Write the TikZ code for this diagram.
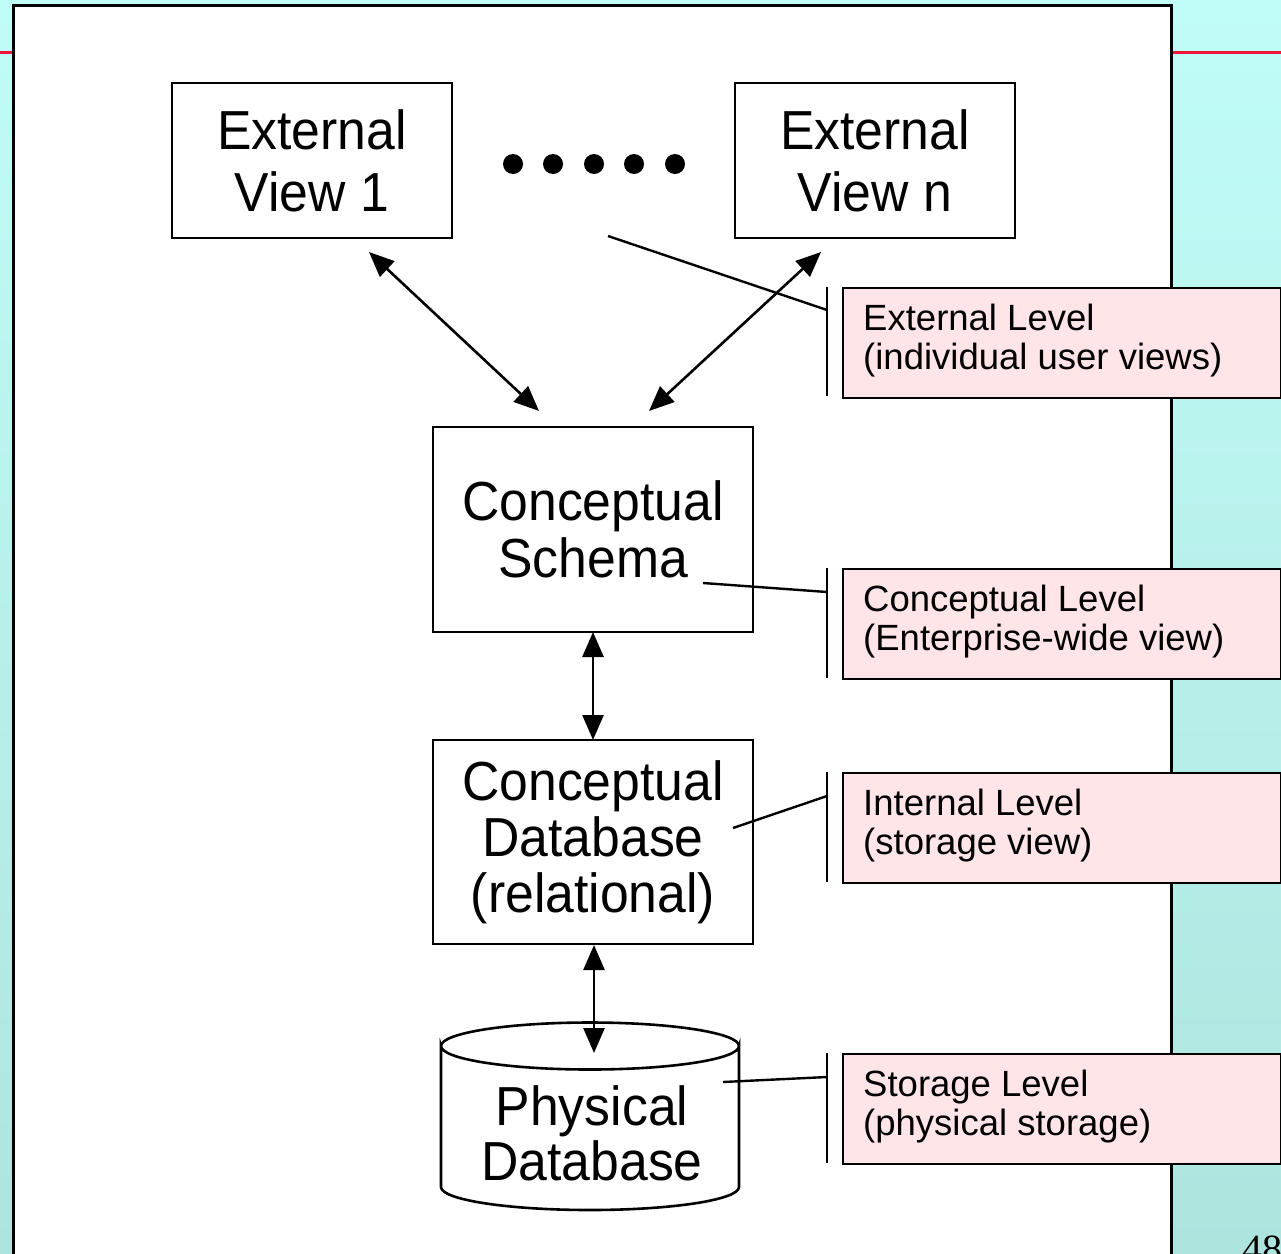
\documentclass[tikz,border=0pt]{standalone}
\usepackage{fontspec}
\setmainfont{Liberation Sans}
\newfontfamily\bigfont[FakeStretch=0.94]{Liberation Sans}
\newfontfamily\numfont{Liberation Serif}
\usetikzlibrary{arrows.meta}
\definecolor{bgtop}{RGB}{192,252,248}
\definecolor{bgbot}{RGB}{174,228,222}
\definecolor{pinkfill}{RGB}{255,228,232}
\definecolor{redline}{RGB}{240,20,60}
\tikzset{
  viewbox/.style={draw=black, line width=2.6pt, fill=white, inner sep=0pt,
    font=\bigfont\fontsize{55}{62}\selectfont, align=center},
  callout/.style={draw=black, line width=2.4pt, fill=pinkfill},
  callouttext/.style={anchor=west, align=left, inner sep=0pt,
    font=\fontsize{36.5}{39}\selectfont},
  bracket/.style={line width=2.4pt},
  leader/.style={line width=2.4pt},
  twoway/.style={line width=2.6pt, {Triangle[length=25pt,width=21pt]}-{Triangle[length=25pt,width=21pt]}},
  dot/.style={circle, fill=black, inner sep=0pt, minimum size=20pt},
}
\begin{document}
\begin{tikzpicture}[x=1pt,y=-1pt]
\useasboundingbox (0,0) rectangle (1281,1253);
% background
\shade[top color=bgtop, bottom color=bgbot] (0,0) rectangle (1281,1253);
\draw[redline, line width=3pt] (0,52) -- (1281,52);
\draw[line width=3pt, fill=white] (13,5) rectangle (1171,1270);
% external views
\node[viewbox, minimum width=280pt, minimum height=155pt] (ev1) at (312,160.5) {External\\View 1};
\node[viewbox, minimum width=280pt, minimum height=155pt] (evn) at (875,160.5) {External\\View n};
\foreach \i/\xx in {1/513,2/553,3/594,4/634,5/675} \node[dot] (d\i) at (\xx,164) {};
% conceptual schema
\node[viewbox, minimum width=320pt, minimum height=205pt, font=\bigfont\fontsize{55}{57}\selectfont] (cs) at (593,529.5) {Conceptual\\Schema};
% conceptual database
\node[viewbox, minimum width=320pt, minimum height=204pt, font=\bigfont\fontsize{55}{56}\selectfont] (cdb) at (593,842) {Conceptual\\Database\\(relational)};
% physical database cylinder
\draw[line width=2.6pt, fill=white] (441,1046) -- (441,1187) arc[start angle=180, end angle=360, x radius=149pt, y radius=23pt] -- (739,1046) arc[start angle=0, end angle=-180, x radius=149pt, y radius=23.5pt] -- cycle;
\draw[line width=2.6pt] (441,1046) arc[start angle=180, end angle=360, x radius=149pt, y radius=-23.5pt];
\node[inner sep=0pt, align=center, font=\bigfont\fontsize{55}{55}\selectfont] (pdb) at (592,1133) {Physical\\Database};
% callouts
\node[callout, minimum width=438pt, minimum height=110pt, anchor=north west] (c1) at (842,287) {};
\node[callouttext] (t1) at (863,341) {External Level\\(individual user views)};
\node[callout, minimum width=438pt, minimum height=110pt, anchor=north west] (c2) at (842,568) {};
\node[callouttext] (t2) at (863,622) {Conceptual Level\\(Enterprise-wide view)};
\node[callout, minimum width=438pt, minimum height=110pt, anchor=north west] (c3) at (842,772) {};
\node[callouttext] (t3) at (863,826) {Internal Level\\(storage view)};
\node[callout, minimum width=438pt, minimum height=110pt, anchor=north west] (c4) at (842,1053) {};
\node[callouttext] (t4) at (863,1107) {Storage Level\\(physical storage)};
% brackets
\coordinate (b1t) at (827,287); \coordinate (b1b) at (827,396);
\coordinate (b2t) at (827,568); \coordinate (b2b) at (827,678);
\coordinate (b3t) at (827,772); \coordinate (b3b) at (827,882);
\coordinate (b4t) at (827,1053); \coordinate (b4b) at (827,1163);
\draw[bracket] (b1t) -- (b1b);
\draw[bracket] (b2t) -- (b2b);
\draw[bracket] (b3t) -- (b3b);
\draw[bracket] (b4t) -- (b4b);
% leader lines
\coordinate (l1s) at (608,236); \coordinate (l1e) at (827,310);
\coordinate (l2s) at (703,583); \coordinate (l2e) at (827,592);
\coordinate (l3s) at (733,828); \coordinate (l3e) at (827,796);
\coordinate (l4s) at (723,1082); \coordinate (l4e) at (827,1077);
\draw[leader] (l1s) -- (l1e);
\draw[leader] (l2s) -- (l2e);
\draw[leader] (l3s) -- (l3e);
\draw[leader] (l4s) -- (l4e);
% arrows
\coordinate (a1s) at (369,252); \coordinate (a1e) at (539,411);
\coordinate (a2s) at (821,252); \coordinate (a2e) at (649,411);
\coordinate (a3s) at (593,632); \coordinate (a3e) at (593,740);
\coordinate (a4s) at (594,945); \coordinate (a4e) at (594,1053);
\draw[twoway] (a1s) -- (a1e);
\draw[twoway] (a2s) -- (a2e);
\draw[twoway] (a3s) -- (a3e);
\draw[twoway] (a4s) -- (a4e);
% page number
\node[anchor=base west, inner sep=0pt, font=\numfont\fontsize{40}{40}\selectfont] (pg) at (1242,1262) {48};
\end{tikzpicture}
\end{document}
